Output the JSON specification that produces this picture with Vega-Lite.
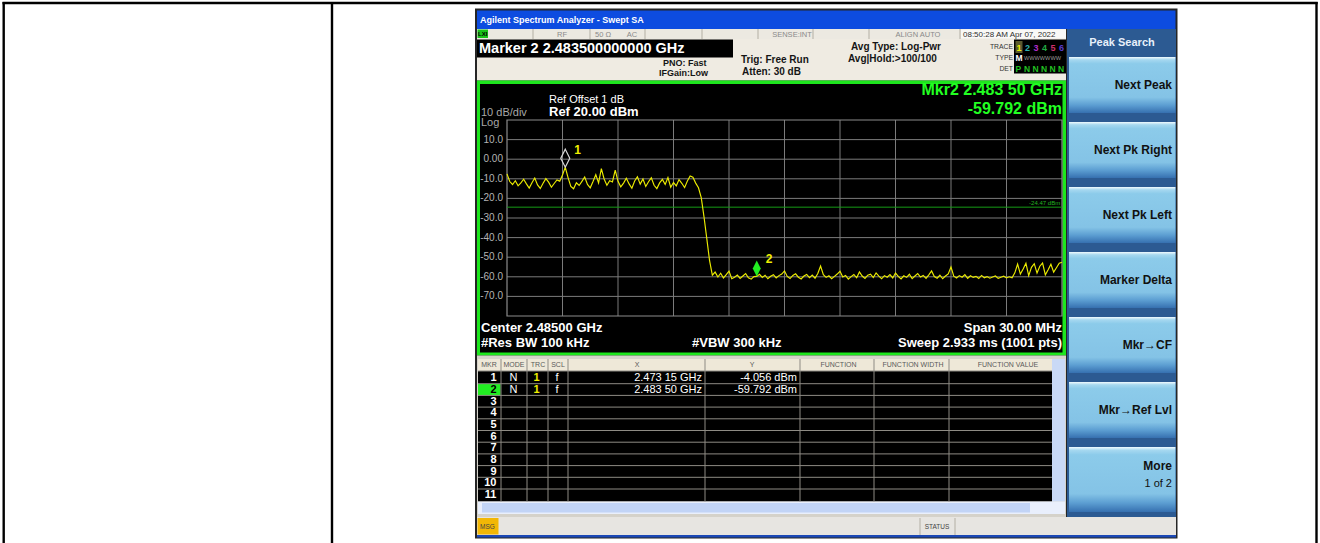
{
"$schema": "https://vega.github.io/schema/vega-lite/v6.json",
"width": 1320, "height": 543, "padding": 0, "autosize": {"type": "none"},
"background": "#ffffff",
"config": {"view": {"stroke": null}, "font": "Liberation Sans", "text": {"font": "Liberation Sans"}},
"datasets": {
"boxes": [
{"part":"frame","x":475,"x2":1177.5,"y":8.5,"y2":538.5},
{"part":"title","x":477,"x2":1175.5,"y":10.5,"y2":29},
{"part":"statusrow","x":477,"x2":1066,"y":29,"y2":39},
{"part":"timebox","x":961,"x2":1066,"y":29.5,"y2":38.5},
{"part":"lxi","x":477.5,"x2":488,"y":29.5,"y2":38},
{"part":"header","x":477,"x2":1066,"y":39,"y2":80.5},
{"part":"mkrbox","x":477,"x2":733,"y":39.5,"y2":57.5},
{"part":"tracebox","x":1014,"x2":1066,"y":39.5,"y2":73.5},
{"part":"tr1","x":1015.5,"x2":1022.5,"y":41,"y2":53},
{"part":"greenborder","x":477,"x2":1066,"y":80.5,"y2":355.5},
{"part":"graph","x":480,"x2":1062.5,"y":84,"y2":352.5},
{"part":"tableframe","x":477,"x2":1066,"y":355.5,"y2":517},
{"part":"tablehead","x":478,"x2":1052,"y":359,"y2":371},
{"part":"tablebody","x":478,"x2":1052,"y":371,"y2":501.5},
{"part":"vscroll","x":1052,"x2":1065,"y":359,"y2":501.5},
{"part":"hscroll","x":478,"x2":1065,"y":501.5,"y2":514},
{"part":"hthumb","x":482,"x2":1030,"y":503,"y2":512.5},
{"part":"mkr2","x":478,"x2":500.5,"y":384,"y2":395.5},
{"part":"softpanel","x":1067,"x2":1176,"y":29,"y2":517},
{"part":"statusbar","x":477,"x2":1176,"y":517,"y2":535},
{"part":"msg","x":477.5,"x2":498.5,"y":518,"y2":534.5},
{"part":"bottomstrip","x":477,"x2":1176,"y":535,"y2":537.5}
],
"buttons": [
{"x":1069,"x2":1175.5,"y":57,"y2":113},
{"x":1069,"x2":1175.5,"y":122,"y2":178},
{"x":1069,"x2":1175.5,"y":187,"y2":243},
{"x":1069,"x2":1175.5,"y":252,"y2":308},
{"x":1069,"x2":1175.5,"y":317,"y2":373},
{"x":1069,"x2":1175.5,"y":382,"y2":438},
{"x":1069,"x2":1175.5,"y":447,"y2":512}
],
"lines": [
{"part":"doc","x":2.5,"x2":1317.7,"y":3,"y2":3},
{"part":"doc","x":3.7,"x2":3.7,"y":2,"y2":543},
{"part":"doc","x":332,"x2":332,"y":2,"y2":543},
{"part":"doc","x":1316.5,"x2":1316.5,"y":2,"y2":543},
{"part":"tab","x":501,"x2":501,"y":359,"y2":501.5},
{"part":"tab","x":527,"x2":527,"y":359,"y2":501.5},
{"part":"tab","x":548,"x2":548,"y":359,"y2":501.5},
{"part":"tab","x":568,"x2":568,"y":359,"y2":501.5},
{"part":"tab","x":705,"x2":705,"y":359,"y2":501.5},
{"part":"tab","x":800,"x2":800,"y":359,"y2":501.5},
{"part":"tab","x":874,"x2":874,"y":359,"y2":501.5},
{"part":"tab","x":949,"x2":949,"y":359,"y2":501.5},
{"part":"tab","x":478,"x2":1052,"y":371,"y2":371},
{"part":"tab","x":478,"x2":1052,"y":383.7,"y2":383.7},
{"part":"tab","x":478,"x2":1052,"y":395.4,"y2":395.4},
{"part":"tab","x":478,"x2":1052,"y":407.1,"y2":407.1},
{"part":"tab","x":478,"x2":1052,"y":418.8,"y2":418.8},
{"part":"tab","x":478,"x2":1052,"y":430.5,"y2":430.5},
{"part":"tab","x":478,"x2":1052,"y":442.2,"y2":442.2},
{"part":"tab","x":478,"x2":1052,"y":453.9,"y2":453.9},
{"part":"tab","x":478,"x2":1052,"y":465.6,"y2":465.6},
{"part":"tab","x":478,"x2":1052,"y":477.3,"y2":477.3},
{"part":"tab","x":478,"x2":1052,"y":489,"y2":489},
{"part":"stat","x":533,"x2":533,"y":29,"y2":39},
{"part":"stat","x":590,"x2":590,"y":29,"y2":39},
{"part":"stat","x":645,"x2":645,"y":29,"y2":39},
{"part":"stat","x":702,"x2":702,"y":29,"y2":39},
{"part":"stat","x":758,"x2":758,"y":29,"y2":39},
{"part":"stat","x":813,"x2":813,"y":29,"y2":39},
{"part":"stat","x":869,"x2":869,"y":29,"y2":39},
{"part":"stat","x":960,"x2":960,"y":29,"y2":39},
{"part":"stat","x":920,"x2":920,"y":518,"y2":535},
{"part":"stat","x":955,"x2":955,"y":518,"y2":535}
],
"texts": [
{"s":"title","t":"Agilent Spectrum Analyzer - Swept SA","x":480,"y":20},
{"s":"lxi","t":"LXI","x":482.7,"y":34},
{"s":"stat","t":"RF","x":562,"y":34.5},
{"s":"stat","t":"50 Ω","x":603,"y":34.5},
{"s":"stat","t":"AC","x":632,"y":34.5},
{"s":"stat","t":"SENSE:INT","x":792,"y":34.5},
{"s":"stat","t":"ALIGN AUTO","x":918,"y":34.5},
{"s":"time","t":"08:50:28 AM Apr 07, 2022","x":963,"y":34.5},
{"s":"mk","t":"Marker 2 2.483500000000 GHz","x":479,"y":49},
{"s":"h9","t":"PNO: Fast","x":663,"y":63},
{"s":"h9","t":"IFGain:Low","x":659,"y":73},
{"s":"h10","t":"Trig: Free Run","x":741,"y":60},
{"s":"h10","t":"Atten: 30 dB","x":742,"y":71.5},
{"s":"h10","t":"Avg Type: Log-Pwr","x":851,"y":47},
{"s":"h10","t":"Avg|Hold:>100/100","x":848,"y":59},
{"s":"trl","t":"TRACE","x":1013,"y":46.5},
{"s":"trl","t":"TYPE","x":1013,"y":58},
{"s":"trl","t":"DET","x":1013,"y":68.5},
{"s":"trd","t":"1","x":1019,"y":47.5},
{"s":"trd","t":"2","x":1027.5,"y":47.5},
{"s":"trd","t":"3","x":1036,"y":47.5},
{"s":"trd","t":"4","x":1044.5,"y":47.5},
{"s":"trd","t":"5","x":1053,"y":47.5},
{"s":"trd","t":"6","x":1061.5,"y":47.5},
{"s":"trm","t":"M","x":1015.5,"y":58},
{"s":"trw","t":"WWWWWWW","x":1024,"y":58},
{"s":"trp","t":"P","x":1015.5,"y":68.5},
{"s":"trp","t":"N N N N N","x":1024,"y":68.5},
{"s":"refoff","t":"Ref Offset 1 dB","x":549,"y":99.5},
{"s":"refb","t":"Ref 20.00 dBm","x":549,"y":112},
{"s":"div","t":"10 dB/div","x":481,"y":113},
{"s":"div","t":"Log","x":481,"y":122.5},
{"s":"mv","t":"Mkr2 2.483 50 GHz","x":1062,"y":90},
{"s":"mv","t":"-59.792 dBm","x":1062,"y":108.5},
{"s":"refb","t":"Center 2.48500 GHz","x":481,"y":327.5},
{"s":"refb","t":"#Res BW 100 kHz","x":481,"y":342.5},
{"s":"refb","t":"#VBW 300 kHz","x":692,"y":342.5},
{"s":"refr","t":"Span 30.00 MHz","x":1062,"y":327.5},
{"s":"refr","t":"Sweep  2.933 ms (1001 pts)","x":1062,"y":342.5},
{"s":"th","t":"MKR","x":489,"y":365},
{"s":"th","t":"MODE","x":514,"y":365},
{"s":"th","t":"TRC","x":538,"y":365},
{"s":"th","t":"SCL","x":558,"y":365},
{"s":"th","t":"X","x":637,"y":365},
{"s":"th","t":"Y","x":752,"y":365},
{"s":"th","t":"FUNCTION","x":838.5,"y":365},
{"s":"th","t":"FUNCTION WIDTH","x":913,"y":365},
{"s":"th","t":"FUNCTION VALUE","x":1008,"y":365},
{"s":"rn","t":"1","x":496.5,"y":378},
{"s":"rn2","t":"2","x":496.5,"y":389.8},
{"s":"rn","t":"3","x":496.5,"y":401.5},
{"s":"rn","t":"4","x":496.5,"y":413.2},
{"s":"rn","t":"5","x":496.5,"y":424.9},
{"s":"rn","t":"6","x":496.5,"y":436.6},
{"s":"rn","t":"7","x":496.5,"y":448.3},
{"s":"rn","t":"8","x":496.5,"y":460},
{"s":"rn","t":"9","x":496.5,"y":471.7},
{"s":"rn","t":"10","x":496.5,"y":483.4},
{"s":"rn","t":"11","x":496.5,"y":495.1},
{"s":"cc","t":"N","x":513.5,"y":378},
{"s":"cc","t":"f","x":557,"y":378},
{"s":"cc","t":"N","x":513.5,"y":389.8},
{"s":"cc","t":"f","x":557,"y":389.8},
{"s":"cy","t":"1","x":536.5,"y":378},
{"s":"cy","t":"1","x":536.5,"y":389.8},
{"s":"cr","t":"2.473 15 GHz","x":702,"y":378},
{"s":"cr","t":"-4.056 dBm","x":797,"y":378},
{"s":"cr","t":"2.483 50 GHz","x":702,"y":389.8},
{"s":"cr","t":"-59.792 dBm","x":797,"y":389.8},
{"s":"soft","t":"Next Peak","x":1172,"y":85},
{"s":"soft","t":"Next Pk Right","x":1172,"y":150},
{"s":"soft","t":"Next Pk Left","x":1172,"y":215},
{"s":"soft","t":"Marker Delta","x":1172,"y":280},
{"s":"soft","t":"Mkr→CF","x":1172,"y":345},
{"s":"soft","t":"Mkr→Ref Lvl","x":1172,"y":410},
{"s":"soft","t":"More","x":1172,"y":465.5},
{"s":"soft2","t":"1 of 2","x":1172,"y":484},
{"s":"pst","t":"Peak Search","x":1122,"y":43},
{"s":"msg","t":"MSG","x":487.5,"y":526.5},
{"s":"msg","t":"STATUS","x":937,"y":526.5}
],
"hgrid": [{"dbm":10,"lab":"10.0"},{"dbm":0,"lab":"0.00"},{"dbm":-10,"lab":"-10.0"},{"dbm":-20,"lab":"-20.0"},{"dbm":-30,"lab":"-30.0"},{"dbm":-40,"lab":"-40.0"},{"dbm":-50,"lab":"-50.0"},{"dbm":-60,"lab":"-60.0"},{"dbm":-70,"lab":"-70.0"}],
"vgrid": [{"f":2.473},{"f":2.476},{"f":2.479},{"f":2.482},{"f":2.485},{"f":2.488},{"f":2.491},{"f":2.494},{"f":2.497}],
"dline": [{"dbm":-24.47,"t":"-24.47 dBm"}],
"markers": [{"f":2.47315,"dbm":-4.056,"m":"1"},{"f":2.4835,"dbm":-59.792,"m":"2"}],
"trace": [
{"f":2.47,"dbm":-7.5},{"f":2.47015,"dbm":-11.4},{"f":2.4703,"dbm":-12.9},{"f":2.47045,"dbm":-11.0},{"f":2.4706,"dbm":-13.6},
{"f":2.47075,"dbm":-12.1},{"f":2.4709,"dbm":-10.2},{"f":2.47105,"dbm":-12.6},{"f":2.4712,"dbm":-14.7},{"f":2.47135,"dbm":-12.0},
{"f":2.4715,"dbm":-9.6},{"f":2.47165,"dbm":-13.1},{"f":2.4718,"dbm":-14.9},{"f":2.47195,"dbm":-12.3},{"f":2.4721,"dbm":-9.9},
{"f":2.47225,"dbm":-11.7},{"f":2.4724,"dbm":-14.3},{"f":2.47255,"dbm":-12.4},{"f":2.4727,"dbm":-10.6},{"f":2.47285,"dbm":-11.2},
{"f":2.473,"dbm":-8.1},{"f":2.47315,"dbm":-4.1},{"f":2.4733,"dbm":-9.4},{"f":2.47345,"dbm":-13.9},{"f":2.4736,"dbm":-15.1},
{"f":2.47375,"dbm":-12.0},{"f":2.4739,"dbm":-13.4},{"f":2.47405,"dbm":-11.3},{"f":2.4742,"dbm":-9.1},{"f":2.47435,"dbm":-12.9},
{"f":2.4745,"dbm":-14.6},{"f":2.47465,"dbm":-11.4},{"f":2.4748,"dbm":-7.9},{"f":2.47495,"dbm":-12.1},{"f":2.4751,"dbm":-4.8},
{"f":2.47525,"dbm":-10.1},{"f":2.4754,"dbm":-13.3},{"f":2.47555,"dbm":-11.0},{"f":2.4757,"dbm":-11.6},{"f":2.47585,"dbm":-5.6},
{"f":2.476,"dbm":-11.3},{"f":2.47615,"dbm":-14.1},{"f":2.4763,"dbm":-12.2},{"f":2.47645,"dbm":-9.7},{"f":2.4766,"dbm":-12.6},
{"f":2.47675,"dbm":-14.8},{"f":2.4769,"dbm":-11.1},{"f":2.47705,"dbm":-9.0},{"f":2.4772,"dbm":-12.7},{"f":2.47735,"dbm":-10.1},
{"f":2.4775,"dbm":-13.9},{"f":2.47765,"dbm":-11.5},{"f":2.4778,"dbm":-9.5},{"f":2.47795,"dbm":-13.3},{"f":2.4781,"dbm":-15.0},
{"f":2.47825,"dbm":-12.1},{"f":2.4784,"dbm":-10.3},{"f":2.47855,"dbm":-12.9},{"f":2.4787,"dbm":-9.4},{"f":2.47885,"dbm":-14.3},
{"f":2.479,"dbm":-11.9},{"f":2.47915,"dbm":-13.6},{"f":2.4793,"dbm":-10.4},{"f":2.47945,"dbm":-12.3},{"f":2.4796,"dbm":-14.5},
{"f":2.47975,"dbm":-11.1},{"f":2.4799,"dbm":-8.6},{"f":2.48005,"dbm":-9.2},{"f":2.4802,"dbm":-12.2},{"f":2.48035,"dbm":-14.6},
{"f":2.4805,"dbm":-19.6},{"f":2.48065,"dbm":-29.5},{"f":2.4808,"dbm":-40.5},{"f":2.48095,"dbm":-51.8},{"f":2.4811,"dbm":-59.2},
{"f":2.48125,"dbm":-57.6},{"f":2.4814,"dbm":-60.1},{"f":2.48155,"dbm":-58.2},{"f":2.4817,"dbm":-60.6},{"f":2.48185,"dbm":-58.9},
{"f":2.482,"dbm":-57.1},{"f":2.48215,"dbm":-61.0},{"f":2.4823,"dbm":-60.2},{"f":2.48245,"dbm":-59.1},{"f":2.4826,"dbm":-60.8},
{"f":2.48275,"dbm":-59.6},{"f":2.4829,"dbm":-58.4},{"f":2.48305,"dbm":-60.5},{"f":2.4832,"dbm":-61.2},{"f":2.48335,"dbm":-59.9},
{"f":2.4835,"dbm":-59.8},{"f":2.48365,"dbm":-58.7},{"f":2.4838,"dbm":-60.3},{"f":2.48395,"dbm":-59.2},{"f":2.4841,"dbm":-61.0},
{"f":2.48425,"dbm":-59.7},{"f":2.4844,"dbm":-58.9},{"f":2.48455,"dbm":-60.6},{"f":2.4847,"dbm":-59.4},{"f":2.48485,"dbm":-58.6},
{"f":2.485,"dbm":-57.0},{"f":2.48515,"dbm":-59.8},{"f":2.4853,"dbm":-60.9},{"f":2.48545,"dbm":-59.3},{"f":2.4856,"dbm":-58.5},
{"f":2.48575,"dbm":-60.2},{"f":2.4859,"dbm":-61.1},{"f":2.48605,"dbm":-59.6},{"f":2.4862,"dbm":-58.8},{"f":2.48635,"dbm":-60.4},
{"f":2.4865,"dbm":-59.1},{"f":2.48665,"dbm":-60.7},{"f":2.4868,"dbm":-58.3},{"f":2.48695,"dbm":-54.5},{"f":2.4871,"dbm":-58.9},
{"f":2.48725,"dbm":-60.3},{"f":2.4874,"dbm":-59.5},{"f":2.48755,"dbm":-61.0},{"f":2.4877,"dbm":-59.8},{"f":2.48785,"dbm":-58.6},
{"f":2.488,"dbm":-57.2},{"f":2.48815,"dbm":-60.1},{"f":2.4883,"dbm":-59.3},{"f":2.48845,"dbm":-61.2},{"f":2.4886,"dbm":-59.9},
{"f":2.48875,"dbm":-58.8},{"f":2.4889,"dbm":-60.5},{"f":2.48905,"dbm":-57.5},{"f":2.4892,"dbm":-59.6},{"f":2.48935,"dbm":-60.8},
{"f":2.4895,"dbm":-59.2},{"f":2.48965,"dbm":-58.7},{"f":2.4898,"dbm":-60.4},{"f":2.48995,"dbm":-58.0},{"f":2.4901,"dbm":-59.7},
{"f":2.49025,"dbm":-61.0},{"f":2.4904,"dbm":-59.4},{"f":2.49055,"dbm":-60.2},{"f":2.4907,"dbm":-58.9},{"f":2.49085,"dbm":-60.6},
{"f":2.491,"dbm":-58.1},{"f":2.49115,"dbm":-59.8},{"f":2.4913,"dbm":-61.1},{"f":2.49145,"dbm":-59.5},{"f":2.4916,"dbm":-60.3},
{"f":2.49175,"dbm":-58.7},{"f":2.4919,"dbm":-60.9},{"f":2.49205,"dbm":-59.6},{"f":2.4922,"dbm":-58.4},{"f":2.49235,"dbm":-60.1},
{"f":2.4925,"dbm":-59.3},{"f":2.49265,"dbm":-60.8},{"f":2.4928,"dbm":-59.0},{"f":2.49295,"dbm":-57.0},{"f":2.4931,"dbm":-59.9},
{"f":2.49325,"dbm":-60.7},{"f":2.4934,"dbm":-59.2},{"f":2.49355,"dbm":-61.0},{"f":2.4937,"dbm":-59.6},{"f":2.49385,"dbm":-58.5},
{"f":2.494,"dbm":-55.0},{"f":2.49415,"dbm":-59.7},{"f":2.4943,"dbm":-60.6},{"f":2.49445,"dbm":-59.4},{"f":2.4946,"dbm":-60.2},
{"f":2.49475,"dbm":-58.9},{"f":2.4949,"dbm":-60.8},{"f":2.49505,"dbm":-59.5},{"f":2.4952,"dbm":-60.3},{"f":2.49535,"dbm":-59.8},
{"f":2.4955,"dbm":-60.9},{"f":2.49565,"dbm":-59.3},{"f":2.4958,"dbm":-60.5},{"f":2.49595,"dbm":-59.9},{"f":2.4961,"dbm":-60.7},
{"f":2.49625,"dbm":-60.1},{"f":2.4964,"dbm":-59.6},{"f":2.49655,"dbm":-60.8},{"f":2.4967,"dbm":-60.2},{"f":2.49685,"dbm":-59.7},
{"f":2.497,"dbm":-60.6},{"f":2.49715,"dbm":-60.0},{"f":2.4973,"dbm":-60.5},{"f":2.49745,"dbm":-58.0},{"f":2.4976,"dbm":-53.5},
{"f":2.49775,"dbm":-58.6},{"f":2.4979,"dbm":-56.0},{"f":2.49805,"dbm":-53.1},{"f":2.4982,"dbm":-59.4},{"f":2.49835,"dbm":-55.2},
{"f":2.4985,"dbm":-53.3},{"f":2.49865,"dbm":-58.1},{"f":2.4988,"dbm":-54.6},{"f":2.49895,"dbm":-53.0},{"f":2.4991,"dbm":-59.0},
{"f":2.49925,"dbm":-56.4},{"f":2.4994,"dbm":-53.6},{"f":2.49955,"dbm":-57.6},{"f":2.4997,"dbm":-55.4},{"f":2.49985,"dbm":-53.1},
{"f":2.5,"dbm":-52.6}
]
},
"layer": [
{
"encoding": {
"x": {"field":"x","type":"quantitative","scale":{"domain":[0,1320],"range":[0,1320],"nice":false,"zero":false},"axis":null},
"y": {"field":"y","type":"quantitative","scale":{"domain":[0,543],"range":[0,543],"nice":false,"zero":false},"axis":null}
},
"layer": [
{"data":{"name":"boxes"},"mark":{"type":"rect","strokeWidth":0},"encoding":{"x2":{"field":"x2"},"y2":{"field":"y2"},
 "fill":{"field":"part","type":"nominal","legend":null,"scale":{
 "domain":["frame","title","statusrow","timebox","lxi","header","mkrbox","tracebox","tr1","greenborder","graph","tableframe","tablehead","tablebody","vscroll","hscroll","hthumb","mkr2","softpanel","statusbar","msg","bottomstrip"],
 "range":["#262626","#0d4ce0","#ece9e1","#f9f9f7","#19c219","#efebe2","#000000","#000000","#5b5b30","#1ee61e","#000000","#d5d2ca","#eee8d8","#000000","#c9d9f6","#e9effc","#c2d4f6","#22ee22","#2c5a92","#e7e5e1","#f2b705","#1b48b5"]}}}},
{"data":{"name":"buttons"},"mark":{"type":"rect","strokeWidth":0,"fill":{"gradient":"linear","x1":0,"y1":0,"x2":0,"y2":1,"stops":[{"offset":0,"color":"#f0fafe"},{"offset":0.05,"color":"#a6d8f0"},{"offset":0.12,"color":"#8ccbea"},{"offset":0.72,"color":"#84c3e6"},{"offset":0.86,"color":"#5c9ed2"},{"offset":1,"color":"#3670b0"}]}},"encoding":{"x2":{"field":"x2"},"y2":{"field":"y2"}}},
{"data":{"name":"lines"},"transform":[{"filter":"datum.part==='tab'"}],"mark":{"type":"rule","color":"#8e8b84","strokeWidth":1},"encoding":{"x2":{"field":"x2"},"y2":{"field":"y2"}}},
{"data":{"name":"lines"},"transform":[{"filter":"datum.part==='stat'"}],"mark":{"type":"rule","color":"#b3afa4","strokeWidth":1},"encoding":{"x2":{"field":"x2"},"y2":{"field":"y2"}}},
{"data":{"name":"lines"},"transform":[{"filter":"datum.part==='doc'"}],"mark":{"type":"rule","color":"#000000","strokeWidth":2.4},"encoding":{"x2":{"field":"x2"},"y2":{"field":"y2"}}},
{"data":{"name":"texts"},"transform":[{"filter":"datum.s==='title'"}],"mark":{"type":"text","align":"left","baseline":"middle","fontSize":9,"fontWeight":"bold","color":"#ffffff"},"encoding":{"text":{"field":"t"}}},
{"data":{"name":"texts"},"transform":[{"filter":"datum.s==='lxi'"}],"mark":{"type":"text","align":"center","baseline":"middle","fontSize":6,"fontWeight":"bold","color":"#000000"},"encoding":{"text":{"field":"t"}}},
{"data":{"name":"texts"},"transform":[{"filter":"datum.s==='stat'"}],"mark":{"type":"text","align":"center","baseline":"middle","fontSize":7.5,"color":"#8a8a8a"},"encoding":{"text":{"field":"t"}}},
{"data":{"name":"texts"},"transform":[{"filter":"datum.s==='time'"}],"mark":{"type":"text","align":"left","baseline":"middle","fontSize":8,"color":"#303030"},"encoding":{"text":{"field":"t"}}},
{"data":{"name":"texts"},"transform":[{"filter":"datum.s==='mk'"}],"mark":{"type":"text","align":"left","baseline":"middle","fontSize":14.5,"fontWeight":"bold","color":"#ffffff"},"encoding":{"text":{"field":"t"}}},
{"data":{"name":"texts"},"transform":[{"filter":"datum.s==='h9'"}],"mark":{"type":"text","align":"left","baseline":"middle","fontSize":9,"fontWeight":"bold","color":"#151515"},"encoding":{"text":{"field":"t"}}},
{"data":{"name":"texts"},"transform":[{"filter":"datum.s==='h10'"}],"mark":{"type":"text","align":"left","baseline":"middle","fontSize":10,"fontWeight":"bold","color":"#151515"},"encoding":{"text":{"field":"t"}}},
{"data":{"name":"texts"},"transform":[{"filter":"datum.s==='trl'"}],"mark":{"type":"text","align":"right","baseline":"middle","fontSize":6.8,"color":"#333333"},"encoding":{"text":{"field":"t"}}},
{"data":{"name":"texts"},"transform":[{"filter":"datum.s==='trd'"}],"mark":{"type":"text","align":"center","baseline":"middle","fontSize":9,"fontWeight":"bold"},"encoding":{"text":{"field":"t"},"color":{"field":"t","type":"nominal","legend":null,"scale":{"domain":["1","2","3","4","5","6"],"range":["#f0f000","#2fb3b3","#b02cc8","#22a844","#d0306a","#5a3ccc"]}}}},
{"data":{"name":"texts"},"transform":[{"filter":"datum.s==='trm'"}],"mark":{"type":"text","align":"left","baseline":"middle","fontSize":8.5,"fontWeight":"bold","color":"#ffffff"},"encoding":{"text":{"field":"t"}}},
{"data":{"name":"texts"},"transform":[{"filter":"datum.s==='trw'"}],"mark":{"type":"text","align":"left","baseline":"middle","fontSize":5.6,"color":"#9a9a9a"},"encoding":{"text":{"field":"t"}}},
{"data":{"name":"texts"},"transform":[{"filter":"datum.s==='trp'"}],"mark":{"type":"text","align":"left","baseline":"middle","fontSize":8.5,"fontWeight":"bold","color":"#22c022"},"encoding":{"text":{"field":"t"}}},
{"data":{"name":"texts"},"transform":[{"filter":"datum.s==='refoff'"}],"mark":{"type":"text","align":"left","baseline":"middle","fontSize":11,"color":"#ffffff"},"encoding":{"text":{"field":"t"}}},
{"data":{"name":"texts"},"transform":[{"filter":"datum.s==='refb'"}],"mark":{"type":"text","align":"left","baseline":"middle","fontSize":13,"fontWeight":"bold","color":"#ffffff"},"encoding":{"text":{"field":"t"}}},
{"data":{"name":"texts"},"transform":[{"filter":"datum.s==='refr'"}],"mark":{"type":"text","align":"right","baseline":"middle","fontSize":13,"fontWeight":"bold","color":"#ffffff"},"encoding":{"text":{"field":"t"}}},
{"data":{"name":"texts"},"transform":[{"filter":"datum.s==='div'"}],"mark":{"type":"text","align":"left","baseline":"middle","fontSize":11,"color":"#a8a8a8"},"encoding":{"text":{"field":"t"}}},
{"data":{"name":"texts"},"transform":[{"filter":"datum.s==='mv'"}],"mark":{"type":"text","align":"right","baseline":"middle","fontSize":16,"fontWeight":"bold","color":"#22ff22"},"encoding":{"text":{"field":"t"}}},
{"data":{"name":"texts"},"transform":[{"filter":"datum.s==='th'"}],"mark":{"type":"text","align":"center","baseline":"middle","fontSize":7,"color":"#5a5a5a"},"encoding":{"text":{"field":"t"}}},
{"data":{"name":"texts"},"transform":[{"filter":"datum.s==='rn'"}],"mark":{"type":"text","align":"right","baseline":"middle","fontSize":11,"fontWeight":"bold","color":"#ffffff"},"encoding":{"text":{"field":"t"}}},
{"data":{"name":"texts"},"transform":[{"filter":"datum.s==='rn2'"}],"mark":{"type":"text","align":"right","baseline":"middle","fontSize":11,"fontWeight":"bold","color":"#000000"},"encoding":{"text":{"field":"t"}}},
{"data":{"name":"texts"},"transform":[{"filter":"datum.s==='cc'"}],"mark":{"type":"text","align":"center","baseline":"middle","fontSize":11,"color":"#ffffff"},"encoding":{"text":{"field":"t"}}},
{"data":{"name":"texts"},"transform":[{"filter":"datum.s==='cy'"}],"mark":{"type":"text","align":"center","baseline":"middle","fontSize":11,"fontWeight":"bold","color":"#f0f000"},"encoding":{"text":{"field":"t"}}},
{"data":{"name":"texts"},"transform":[{"filter":"datum.s==='cr'"}],"mark":{"type":"text","align":"right","baseline":"middle","fontSize":11,"color":"#ffffff"},"encoding":{"text":{"field":"t"}}},
{"data":{"name":"texts"},"transform":[{"filter":"datum.s==='soft'"}],"mark":{"type":"text","align":"right","baseline":"middle","fontSize":12,"fontWeight":"bold","color":"#111111"},"encoding":{"text":{"field":"t"}}},
{"data":{"name":"texts"},"transform":[{"filter":"datum.s==='soft2'"}],"mark":{"type":"text","align":"right","baseline":"middle","fontSize":11,"color":"#111111"},"encoding":{"text":{"field":"t"}}},
{"data":{"name":"texts"},"transform":[{"filter":"datum.s==='pst'"}],"mark":{"type":"text","align":"center","baseline":"middle","fontSize":11,"fontWeight":"bold","color":"#e8f0fa"},"encoding":{"text":{"field":"t"}}},
{"data":{"name":"texts"},"transform":[{"filter":"datum.s==='msg'"}],"mark":{"type":"text","align":"center","baseline":"middle","fontSize":6.5,"color":"#444444"},"encoding":{"text":{"field":"t"}}}
]
},
{
"layer": [
{"data":{"name":"hgrid"},"mark":{"type":"rule","color":"#7b7b7b","strokeWidth":1},"encoding":{
 "x":{"datum":2.47,"type":"quantitative","scale":{"domain":[2.47,2.5],"range":[507,1062],"nice":false,"zero":false},"axis":null},"x2":{"datum":2.5},
 "y":{"field":"dbm","type":"quantitative","scale":{"domain":[-80,20],"range":[316,120],"nice":false,"zero":false},"axis":null}}},
{"data":{"name":"hgrid"},"mark":{"type":"text","align":"right","baseline":"middle","dx":-4,"fontSize":10,"color":"#b4b4b4"},"encoding":{
 "x":{"datum":2.47,"type":"quantitative","scale":{"domain":[2.47,2.5],"range":[507,1062],"nice":false,"zero":false},"axis":null},
 "y":{"field":"dbm","type":"quantitative","scale":{"domain":[-80,20],"range":[316,120],"nice":false,"zero":false},"axis":null},
 "text":{"field":"lab"}}},
{"data":{"name":"vgrid"},"mark":{"type":"rule","color":"#7b7b7b","strokeWidth":1},"encoding":{
 "x":{"field":"f","type":"quantitative","scale":{"domain":[2.47,2.5],"range":[507,1062],"nice":false,"zero":false},"axis":null},
 "y":{"datum":-80,"type":"quantitative","scale":{"domain":[-80,20],"range":[316,120],"nice":false,"zero":false},"axis":null},"y2":{"datum":20}}},
{"data":{"values":[{"k":1}]},"mark":{"type":"rect","fill":"transparent","stroke":"#8c8c8c","strokeWidth":1.2},"encoding":{
 "x":{"datum":2.47,"type":"quantitative","scale":{"domain":[2.47,2.5],"range":[507,1062],"nice":false,"zero":false},"axis":null},"x2":{"datum":2.5},
 "y":{"datum":-80,"type":"quantitative","scale":{"domain":[-80,20],"range":[316,120],"nice":false,"zero":false},"axis":null},"y2":{"datum":20}}},
{"data":{"name":"dline"},"mark":{"type":"rule","color":"#169c16","strokeWidth":1},"encoding":{
 "x":{"datum":2.47,"type":"quantitative","scale":{"domain":[2.47,2.5],"range":[507,1062],"nice":false,"zero":false},"axis":null},"x2":{"datum":2.5},
 "y":{"field":"dbm","type":"quantitative","scale":{"domain":[-80,20],"range":[316,120],"nice":false,"zero":false},"axis":null}}},
{"data":{"name":"dline"},"mark":{"type":"text","align":"right","baseline":"bottom","dy":-1,"fontSize":6,"color":"#22b422"},"encoding":{
 "x":{"datum":2.4999,"type":"quantitative","scale":{"domain":[2.47,2.5],"range":[507,1062],"nice":false,"zero":false},"axis":null},
 "y":{"field":"dbm","type":"quantitative","scale":{"domain":[-80,20],"range":[316,120],"nice":false,"zero":false},"axis":null},
 "text":{"field":"t"}}},
{"data":{"name":"trace"},"mark":{"type":"line","color":"#ecec00","strokeWidth":1.15},"encoding":{
 "x":{"field":"f","type":"quantitative","scale":{"domain":[2.47,2.5],"range":[507,1062],"nice":false,"zero":false},"axis":null},
 "y":{"field":"dbm","type":"quantitative","scale":{"domain":[-80,20],"range":[316,120],"nice":false,"zero":false},"axis":null}}},
{"data":{"name":"markers"},"transform":[{"filter":"datum.m==='1'"}],"mark":{"type":"point","shape":"M0,-1L0.5,0L0,1L-0.5,0Z","size":324,"yOffset":-9,"filled":false,"stroke":"#d8d8d8","strokeWidth":1.2,"opacity":1},"encoding":{
 "x":{"field":"f","type":"quantitative","scale":{"domain":[2.47,2.5],"range":[507,1062],"nice":false,"zero":false},"axis":null},
 "y":{"field":"dbm","type":"quantitative","scale":{"domain":[-80,20],"range":[316,120],"nice":false,"zero":false},"axis":null}}},
{"data":{"name":"markers"},"transform":[{"filter":"datum.m==='2'"}],"mark":{"type":"point","shape":"M0,-1L0.5,0L0,1L-0.5,0Z","size":256,"yOffset":-8,"filled":true,"fill":"#22ee22","opacity":1},"encoding":{
 "x":{"field":"f","type":"quantitative","scale":{"domain":[2.47,2.5],"range":[507,1062],"nice":false,"zero":false},"axis":null},
 "y":{"field":"dbm","type":"quantitative","scale":{"domain":[-80,20],"range":[316,120],"nice":false,"zero":false},"axis":null}}},
{"data":{"name":"markers"},"mark":{"type":"text","align":"left","baseline":"middle","dx":9,"dy":-17,"fontSize":12,"fontWeight":"bold","color":"#eeee00"},"encoding":{
 "x":{"field":"f","type":"quantitative","scale":{"domain":[2.47,2.5],"range":[507,1062],"nice":false,"zero":false},"axis":null},
 "y":{"field":"dbm","type":"quantitative","scale":{"domain":[-80,20],"range":[316,120],"nice":false,"zero":false},"axis":null},
 "text":{"field":"m"}}}
]
}
],
"resolve": {"scale": {"x":"independent","y":"independent"}, "axis": {"x":"independent","y":"independent"}}
}
